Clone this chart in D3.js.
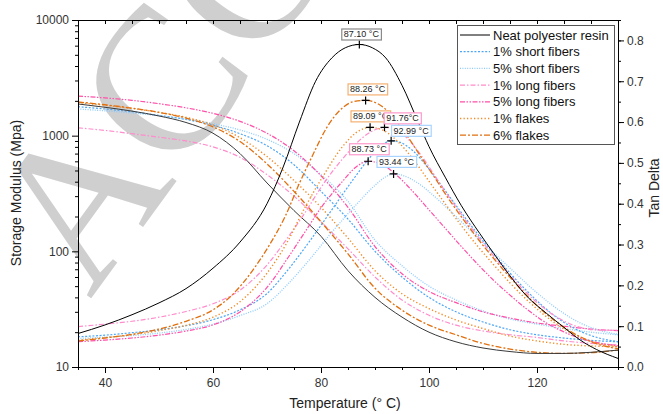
<!DOCTYPE html>
<html>
<head>
<meta charset="utf-8">
<script src="https://cdn.jsdelivr.net/npm/d3@7/dist/d3.min.js"></script>
<style>
  html, body { margin: 0; padding: 0; background: #fff; }
  svg { display: block; }
  text { font-family: "Liberation Sans", Arial, sans-serif; }
</style>
</head>
<body>
<svg id="chart" width="663" height="414"></svg>
<script>
// ---------- DATA ----------
const temps = [35,40,45,50,55,60,65,70,75,80,85,90,95,100,105,110,115,120,125,130,135];

const storageNeat    = [1880,1760,1630,1480,1300,1050,700,390,225,135,68,40,27,20,16.5,14.6,13.6,13.1,13.1,13.4,14];
const storage1Short  = [1780,1700,1610,1500,1380,1230,1040,820,560,330,190,100,60,40,30,24.5,21,19,17.8,17,16.5];
const storage5Short  = [1700,1640,1570,1490,1390,1270,1120,930,700,460,270,125,75,50,38,30.5,26,23.5,21.5,20,19];
const storage1Long   = [1170,1110,1040,970,900,800,650,460,300,180,105,60,38,28,23,20.5,19,18,16.8,16,15.5];
const storage5Long   = [2200,2120,2020,1890,1740,1560,1330,1050,740,450,240,110,64,45,36,30,26.5,24,22.5,21.3,20.6];
const storage1Flakes = [1930,1830,1720,1590,1440,1240,960,660,410,240,130,68,43,32,25.5,21.5,18.5,16.8,15.7,15.2,15];
const storage6Flakes = [1955,1850,1730,1590,1420,1190,890,570,330,180,95,48,31,23,19,16,14.3,13.4,13.1,13.3,14];

const tanNeat = [[35,0.082],[40,0.103],[45,0.128],[50,0.157],[55,0.192],[60,0.242],[65,0.306],[70,0.400],[73,0.490],[76,0.600],[79,0.700],[82,0.757],[84.5,0.782],[87.1,0.790],[89.5,0.782],[92,0.757],[95,0.690],[98,0.600],[100,0.540],[103,0.465],[106,0.395],[109.4,0.327],[112,0.278],[115.6,0.213],[118,0.175],[121.8,0.131],[125,0.097],[128,0.066],[131,0.043],[135,0.021]];
const tan1Short = [[35,0.074],[40,0.078],[45,0.084],[50,0.091],[55,0.101],[60,0.116],[65,0.140],[70,0.180],[74,0.240],[78,0.310],[82,0.385],[86,0.460],[89.5,0.520],[91.5,0.546],[92.99,0.554],[94.5,0.551],[97,0.530],[100,0.485],[103,0.432],[106,0.378],[109,0.326],[112,0.277],[115,0.230],[118,0.188],[121,0.150],[124,0.118],[127,0.094],[130,0.077],[135,0.062]];
const tan5Short = [[35,0.070],[40,0.073],[45,0.077],[50,0.083],[55,0.092],[60,0.105],[65,0.126],[70,0.155],[74,0.205],[78,0.265],[82,0.330],[86,0.390],[90,0.445],[92,0.466],[93.44,0.473],[95,0.470],[98,0.450],[101,0.418],[104,0.381],[107,0.343],[110,0.305],[113,0.267],[116,0.230],[119,0.193],[122,0.160],[125,0.131],[128,0.108],[131,0.092],[135,0.080]];
const tan1Long = [[35,0.099],[40,0.105],[45,0.112],[50,0.122],[55,0.136],[60,0.155],[65,0.188],[70,0.250],[74,0.320],[77,0.377],[80,0.440],[84,0.510],[88,0.565],[90,0.581],[91.76,0.587],[93.5,0.583],[96,0.560],[99,0.510],[102,0.450],[105,0.392],[108,0.338],[111,0.288],[114,0.240],[117,0.196],[120,0.158],[123,0.128],[126,0.106],[129,0.094],[132,0.090],[135,0.090]];
const tan5Long = [[35,0.062],[40,0.066],[45,0.071],[50,0.078],[55,0.088],[60,0.103],[65,0.135],[70,0.195],[74,0.270],[77,0.330],[80,0.390],[84,0.455],[86.5,0.490],[88.73,0.504],[91,0.498],[94,0.470],[97,0.430],[100,0.385],[103,0.340],[106,0.295],[109,0.252],[112,0.212],[115,0.176],[118,0.143],[121,0.114],[124,0.092],[127,0.075],[130,0.063],[135,0.052]];
const tan1Flakes = [[35,0.066],[40,0.072],[45,0.079],[50,0.089],[55,0.102],[60,0.122],[65,0.160],[70,0.230],[73.5,0.300],[77,0.390],[80.5,0.470],[84,0.540],[86.5,0.574],[89.09,0.587],[91.5,0.580],[94,0.555],[97,0.510],[100,0.455],[103,0.400],[106,0.346],[109,0.296],[112,0.250],[115,0.206],[118,0.166],[121,0.131],[124,0.101],[127,0.079],[130,0.063],[135,0.050]];
const tan6Flakes = [[35,0.064],[40,0.071],[45,0.080],[50,0.093],[55,0.112],[60,0.140],[63.5,0.176],[67.8,0.245],[70.5,0.300],[73.4,0.370],[76,0.450],[78.5,0.520],[81,0.585],[84,0.635],[86,0.650],[88.26,0.653],[90.5,0.645],[92.5,0.625],[95,0.585],[98,0.525],[101,0.465],[104,0.405],[107,0.350],[110,0.298],[113,0.250],[116,0.205],[119,0.163],[122,0.127],[125,0.097],[128,0.074],[131,0.057],[135,0.045]];

const seriesNames = ["Neat polyester resin","1% short fibers","5% short fibers","1% long fibers","5% long fibers","1% flakes","6% flakes"];

const peakTemps  = [87.10, 88.26, 89.09, 91.76, 92.99, 88.73, 93.44];
const peakTans   = [0.790, 0.653, 0.587, 0.587, 0.554, 0.504, 0.473];
const peakLabels = ["87.10 °C","88.26 °C","89.09 °C","91.76°C","92.99 °C","88.73 °C","93.44 °C"];

const xTicks = [40,60,80,100,120];
const yLeftTicks = [10,100,1000,10000];
const yRightTicks = [0,0.1,0.2,0.3,0.4,0.5,0.6,0.7,0.8];

// ---------- STYLES ----------
const storageData = [storageNeat, storage1Short, storage5Short, storage1Long, storage5Long, storage1Flakes, storage6Flakes];
const tanData = [tanNeat, tan1Short, tan5Short, tan1Long, tan5Long, tan1Flakes, tan6Flakes];
const colors = ["#000000","#4da6f5","#8ccaff","#ff8ccc","#ff4fa8","#f28c28","#e07010"];
const dashes = [null,"2,1.6","1,1.4","5,2,1.5,2","5,1.5,1.5,1.5,1.5,1.5","1.3,2.2","6,2,2,2"];
const widths = [1,1.2,1.3,1.2,1.2,1.4,1.3];
const boxColors = ["#8a8a8a","#f5b070","#f5b070","#ff99cc","#a8d4ff","#ff99cc","#a8d4ff"];
const labelDx = [2,2,0.5,18,20,1,3];
const labelGap = [4,5,5,3,4,6,6];

// ---------- LAYOUT ----------
const svg = d3.select("#chart");
const L = 78, R = 618, T = 20, B = 367;

const x = d3.scaleLinear().domain([35,135]).range([L,R]);
const yS = d3.scaleLog().domain([10,10000]).range([B,T]);
const yT = d3.scaleLinear().domain([0,0.85]).range([B,T]);

// watermark (clipped to the picture)
svg.append("clipPath").attr("id","wmclip")
  .append("rect").attr("x",0).attr("y",0).attr("width",663).attr("height",414);
svg.append("g").attr("clip-path","url(#wmclip)")
  .append("text")
  .attr("transform","translate(90,300) rotate(-54)")
  .style("font-family","'Liberation Serif','DejaVu Serif',serif")
  .attr("font-size",206)
  .attr("fill","#cfcfcf")
  .text("ACC");

svg.append("clipPath").attr("id","clip")
  .append("rect").attr("x",L).attr("y",T).attr("width",R-L).attr("height",B-T);

const plot = svg.append("g").attr("clip-path","url(#clip)");

const lineS = d3.line().x((d,i)=>x(temps[i])).y(d=>yS(d)).curve(d3.curveMonotoneX);
const lineT = d3.line().x(d=>x(d[0])).y(d=>yT(d[1])).curve(d3.curveMonotoneX);

const order = [1,2,3,4,5,6,0];
order.forEach(i=>{
  plot.append("path").attr("d", lineS(storageData[i]))
    .attr("fill","none").attr("stroke", i===0 ? "#3a3a3a" : colors[i])
    .attr("stroke-width", widths[i]).attr("stroke-dasharray", dashes[i]);
});
order.forEach(i=>{
  plot.append("path").attr("d", lineT(tanData[i]))
    .attr("fill","none").attr("stroke", colors[i])
    .attr("stroke-width", widths[i]).attr("stroke-dasharray", dashes[i]);
});

// ---------- AXES ----------
const axisColor = "#000";
const tickText = "#333";

const xMinor = d3.range(35,136,5);
const gB = svg.append("g").attr("transform",`translate(0,${B})`);
gB.call(d3.axisBottom(x).tickValues(xMinor).tickSize(3).tickFormat(""));
gB.call(g=>g.select(".domain").remove());
const gB2 = svg.append("g").attr("transform",`translate(0,${B})`);
gB2.call(d3.axisBottom(x).tickValues(xTicks).tickSize(6).tickPadding(5).tickFormat(d3.format("d")));
gB2.select(".domain").attr("d",`M${L-6},0.5H${R}`);

const gTop = svg.append("g").attr("transform",`translate(0,${T})`);
gTop.call(d3.axisBottom(x).tickValues(xMinor).tickSize(4).tickFormat(""));
gTop.select(".domain").attr("d",`M${L},0.5H${R}`);

const leftMinor = [];
[10,100,1000].forEach(b=>{ for(let k=2;k<=9;k++) leftMinor.push(b*k); });
const gL = svg.append("g").attr("transform",`translate(${L},0)`);
gL.call(d3.axisLeft(yS).tickValues(leftMinor).tickSize(3).tickFormat(""));
gL.call(g=>g.select(".domain").remove());
const gL2 = svg.append("g").attr("transform",`translate(${L},0)`);
gL2.call(d3.axisLeft(yS).tickValues(yLeftTicks).tickSize(6).tickPadding(3).tickFormat(d3.format("d")));
gL2.select(".domain").attr("d",`M0.5,${T}V${B}`);

const rightMinor = d3.range(0,0.86,0.05).map(v=>+v.toFixed(2));
const gR = svg.append("g").attr("transform",`translate(${R},0)`);
gR.call(d3.axisRight(yT).tickValues(rightMinor).tickSize(3).tickFormat(""));
gR.call(g=>g.select(".domain").remove());
const gR2 = svg.append("g").attr("transform",`translate(${R},0)`);
gR2.call(d3.axisRight(yT).tickValues(yRightTicks).tickSize(6).tickPadding(3).tickFormat(d3.format(".1f")));
gR2.select(".domain").attr("d",`M0.5,${T}V${B}`);

svg.selectAll(".tick text").attr("font-size",12).attr("fill",tickText)
  .style("font-family","'Liberation Sans', Arial, sans-serif");
svg.selectAll(".tick line").attr("stroke",axisColor);
svg.selectAll(".domain").attr("stroke",axisColor);

// titles
svg.append("text").attr("x",345).attr("y",408).attr("text-anchor","middle")
  .attr("font-size",14).attr("fill","#222").text("Temperature (° C)");
svg.append("text").attr("transform","translate(21,193) rotate(-90)").attr("text-anchor","middle")
  .attr("font-size",14).attr("fill","#222").text("Storage Modulus (Mpa)");
svg.append("text").attr("transform","translate(659,188) rotate(-90)").attr("text-anchor","middle")
  .attr("font-size",14).attr("fill","#222").text("Tan Delta");

// ---------- PEAK MARKERS + LABELS ----------
peakTemps.forEach((t,i)=>{
  const px = x(t), py = yT(peakTans[i]);
  svg.append("path").attr("d",`M${px-4},${py}H${px+4}M${px},${py-4}V${py+4}`)
    .attr("stroke","#000").attr("stroke-width",1.2);
  const g = svg.append("g");
  const txt = g.append("text").attr("x",px+labelDx[i]).attr("y",py-labelGap[i]-3)
    .attr("text-anchor","middle").attr("font-size",9).attr("fill","#222").text(peakLabels[i]);
  const bb = txt.node().getBBox();
  g.insert("rect","text").attr("x",bb.x-2).attr("y",bb.y-0.5).attr("width",bb.width+4).attr("height",bb.height+1)
    .attr("fill","#fff").attr("stroke",boxColors[i]).attr("stroke-width",1.2);
});

// ---------- LEGEND ----------
const lg = svg.append("g");
lg.append("rect").attr("x",457.5).attr("y",25.5).attr("width",157).attr("height",119)
  .attr("fill","#fff").attr("stroke","#555").attr("stroke-width",1);
seriesNames.forEach((n,i)=>{
  const yy = 35 + i*16.7;
  lg.append("line").attr("x1",460).attr("x2",490).attr("y1",yy).attr("y2",yy)
    .attr("stroke",colors[i]).attr("stroke-width",widths[i]).attr("stroke-dasharray",dashes[i]);
  lg.append("text").attr("x",493).attr("y",yy+4.5).attr("font-size",13).attr("fill","#111").text(n);
});
</script>
</body>
</html>
